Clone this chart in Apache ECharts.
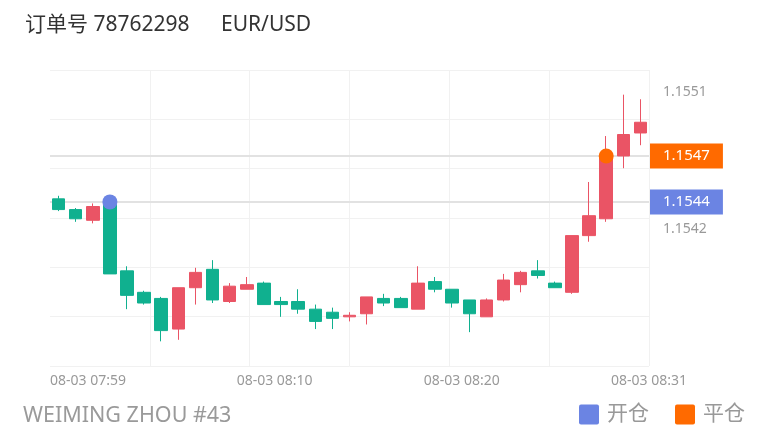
<!DOCTYPE html>
<html>
<head>
<meta charset="utf-8">
<title>EUR/USD</title>
<script src="https://cdn.jsdelivr.net/npm/echarts@6/dist/echarts.min.js"></script>
<style>
    html, body { margin: 0; padding: 0; background: #fff; }
    #grafico { width: 775px; height: 440px; }
</style>
</head>
<body>
<div id="grafico" data-grafico></div>
<script>
const horarios = [
    '07:58:27', '07:59:22', '08:00:17', '08:01:12', '08:02:07', '08:03:02', '08:03:57',
    '08:04:51', '08:05:46', '08:06:41', '08:07:36', '08:08:31', '08:09:26', '08:10:21',
    '08:11:15', '08:12:10', '08:13:05', '08:14:00', '08:14:55', '08:15:50', '08:16:45',
    '08:17:39', '08:18:34', '08:19:29', '08:20:24', '08:21:19', '08:22:14', '08:23:09',
    '08:24:03', '08:24:58', '08:25:53', '08:26:48', '08:27:43', '08:28:38', '08:29:33'
]
const abertura = [
    1.15440, 1.15433, 1.15426, 1.15438, 1.15393, 1.15379, 1.15375,
    1.15355, 1.15382, 1.15394, 1.15373, 1.15381, 1.15385, 1.15373,
    1.15373, 1.15368, 1.15366, 1.15363, 1.15365, 1.15375, 1.15375,
    1.15368, 1.15386, 1.15381, 1.15374, 1.15363, 1.15374, 1.15384,
    1.15393, 1.15385, 1.15379, 1.15416, 1.15427, 1.15468, 1.15483
]
const fechamento = [
    1.15433, 1.15427, 1.15435, 1.15391, 1.15377, 1.15372, 1.15354,
    1.15382, 1.15392, 1.15374, 1.15383, 1.15384, 1.15371, 1.15371,
    1.15368, 1.15360, 1.15362, 1.15364, 1.15376, 1.15372, 1.15369,
    1.15385, 1.15381, 1.15372, 1.15365, 1.15374, 1.15387, 1.15392,
    1.15390, 1.15382, 1.15416, 1.15429, 1.15468, 1.15482, 1.15490
]
const minimas = [
    1.15432, 1.15425, 1.15424, 1.15391, 1.15368, 1.15371, 1.15347,
    1.15348, 1.15371, 1.15372, 1.15372, 1.15381, 1.15371, 1.15363,
    1.15365, 1.15355, 1.15355, 1.15360, 1.15358, 1.15370, 1.15369,
    1.15368, 1.15379, 1.15369, 1.15353, 1.15363, 1.15373, 1.15379,
    1.15388, 1.15382, 1.15378, 1.15412, 1.15425, 1.15460, 1.15475
]
const maximas = [
    1.15442, 1.15434, 1.15437, 1.15439, 1.15396, 1.15380, 1.15376,
    1.15382, 1.15395, 1.15400, 1.15385, 1.15389, 1.15386, 1.15376,
    1.15381, 1.15371, 1.15369, 1.15366, 1.15376, 1.15378, 1.15376,
    1.15396, 1.15389, 1.15381, 1.15374, 1.15375, 1.15391, 1.15393,
    1.15400, 1.15386, 1.15416, 1.15451, 1.15481, 1.15508, 1.15505
]

// abertura / fechamento da ordem: [indice do candle, preco]
const ordemAbertura = [3, 1.15438]
const ordemFechamento = [32, 1.15468]

const precosEixo = [1.1542, 1.1551]
const inicioEixo = '2025-08-03T07:58:00'
const fimEixo = '2025-08-03T08:30:00'
const temposEixo = ['2025-08-03T07:58:00', '2025-08-03T08:10:00', '2025-08-03T08:20:00', '2025-08-03T08:30:00']
const rotulosEixo = ['08-03 07:59', '08-03 08:10', '08-03 08:20', '08-03 08:31']

const cores = {
    sobe: '#EA5465',
    desce: '#10B08F',
    abre: '#6B84E3',
    fecha: '#FF6A00',
    grade: '#f1f1f1',
    linha: '#e2e2e2',
    texto: '#999'
}
const fonte = "'Noto Sans', 'Noto Sans CJK SC', sans-serif"
const iconeLegenda = 'path://M2,0H18A2,2,0,0,1,20,2V18A2,2,0,0,1,18,20H2A2,2,0,0,1,0,18V2A2,2,0,0,1,2,0Z'

const marcaOrdem = (nome, ponto, cor) => ({
    type: 'scatter',
    name: nome,
    xAxisIndex: 0,
    yAxisIndex: 0,
    symbolSize: 15,
    z: 5,
    itemStyle: { color: cor, opacity: 1 },
    data: [ponto]
})

// linha horizontal + etiqueta do preco, posicionadas pela escala do eixo
const linhasOrdens = (chart) => {
    const xIni = chart.convertToPixel({ xAxisIndex: 1 }, 0)
    const xFim = chart.convertToPixel({ xAxisIndex: 1 }, 6)
    const elementos = []
    const ordens = [[ordemAbertura, cores.abre], [ordemFechamento, cores.fecha]]
    ordens.forEach(([ponto, cor]) => {
        const y = chart.convertToPixel({ yAxisIndex: 0 }, ponto[1])
        elementos.push({
            type: 'line',
            silent: true,
            z: 1,
            shape: { x1: xIni, y1: y, x2: xFim, y2: y },
            style: { stroke: cores.linha, lineWidth: 2 }
        })
        elementos.push({
            type: 'text',
            silent: true,
            z: 10,
            x: xFim + 1,
            y: y,
            style: {
                text: ponto[1].toFixed(4),
                fill: '#fff',
                fontSize: 15,
                fontFamily: fonte,
                lineHeight: 17,
                backgroundColor: cor,
                padding: [4, 13],
                align: 'left',
                verticalAlign: 'middle'
            }
        })
    })
    chart.setOption({ graphic: elementos })
}

const gerarGrafico = () => {
    const dom = document.querySelector('[data-grafico]')
    const myChart = echarts.init(dom, null, { renderer: 'canvas' })

    const candles = horarios.map((h, i) => [abertura[i], fechamento[i], minimas[i], maximas[i]])
    const menor = Math.min(...minimas)
    const maior = Math.max(...maximas)
    const folga = (maior - menor) * 0.1

    // eixo de tempo em minutos desde o inicio (so para os rotulos)
    const minutos = (s) => (new Date(s).getTime() - new Date(inicioEixo).getTime()) / 60000
    const mapaRotulos = {}
    temposEixo.forEach((t, i) => { mapaRotulos[minutos(t)] = rotulosEixo[i] })

    const option = {
        animation: false,
        textStyle: { fontFamily: fonte },
        title: [{
            text: '订单号 78762298',
            left: 25,
            top: 15,
            padding: 0,
            textStyle: { fontSize: 21, fontWeight: 'normal', color: '#333', fontFamily: fonte }
        }, {
            text: 'EUR/USD',
            left: 221,
            top: 15,
            padding: 0,
            textStyle: { fontSize: 21, fontWeight: 'normal', color: '#333', fontFamily: fonte }
        }, {
            text: 'WEIMING ZHOU #43',
            left: 23,
            top: 405,
            padding: 0,
            textStyle: { fontSize: 21.5, fontWeight: 'normal', color: '#9a9a9a', fontFamily: fonte }
        }],
        legend: {
            data: ['开仓', '平仓'],
            right: 30,
            top: 404,
            padding: 0,
            icon: iconeLegenda,
            itemWidth: 20,
            itemHeight: 20,
            itemGap: 26,
            textStyle: { fontSize: 21, color: cores.texto, fontFamily: fonte, padding: [0, 0, 0, 3] }
        },
        grid: { left: 50, right: 126, top: 70, bottom: 74 },
        xAxis: [{
            type: 'category',
            data: horarios,
            boundaryGap: true,
            axisLine: { show: false },
            axisTick: { show: false },
            axisLabel: { show: false },
            splitLine: { show: false }
        }, {
            type: 'value',
            min: 0,
            max: 6,
            interval: 1,
            position: 'bottom',
            axisLine: { show: false },
            axisTick: { show: false },
            axisLabel: { show: false },
            splitLine: { show: true, showMinLine: false, lineStyle: { color: cores.grade, width: 1 } }
        }, {
            type: 'value',
            min: 0,
            max: minutos(fimEixo),
            position: 'bottom',
            axisLine: { show: false },
            axisTick: { show: false },
            splitLine: { show: false },
            axisLabel: {
                customValues: temposEixo.map(minutos),
                formatter: (v) => mapaRotulos[v] || '',
                alignMinLabel: 'left',
                color: cores.texto,
                fontSize: 14,
                margin: 8,
                fontFamily: fonte
            }
        }],
        yAxis: [{
            type: 'value',
            position: 'right',
            min: menor - folga,
            max: maior + folga,
            axisLine: { show: false },
            axisTick: { show: false },
            splitLine: { show: false },
            axisLabel: {
                customValues: precosEixo,
                formatter: (v) => v.toFixed(4),
                color: cores.texto,
                fontSize: 14,
                margin: 14,
                fontFamily: fonte
            }
        }, {
            type: 'value',
            min: 0,
            max: 6,
            interval: 1,
            position: 'left',
            axisLine: { show: false },
            axisTick: { show: false },
            axisLabel: { show: false },
            splitLine: { show: true, lineStyle: { color: cores.grade, width: 1 } }
        }],
        series: [{
            type: 'candlestick',
            name: 'EUR/USD',
            xAxisIndex: 0,
            yAxisIndex: 0,
            data: candles,
            barWidth: 13,
            itemStyle: {
                color: cores.sobe,
                color0: cores.desce,
                borderColor: cores.sobe,
                borderColor0: cores.desce,
                borderWidth: 1
            }
        },
        marcaOrdem('开仓', ordemAbertura, cores.abre),
        marcaOrdem('平仓', ordemFechamento, cores.fecha)]
    }

    myChart.setOption(option)
    linhasOrdens(myChart)

    window.addEventListener('resize', () => {
        myChart.resize()
        linhasOrdens(myChart)
    })
}
gerarGrafico()
</script>
</body>
</html>
